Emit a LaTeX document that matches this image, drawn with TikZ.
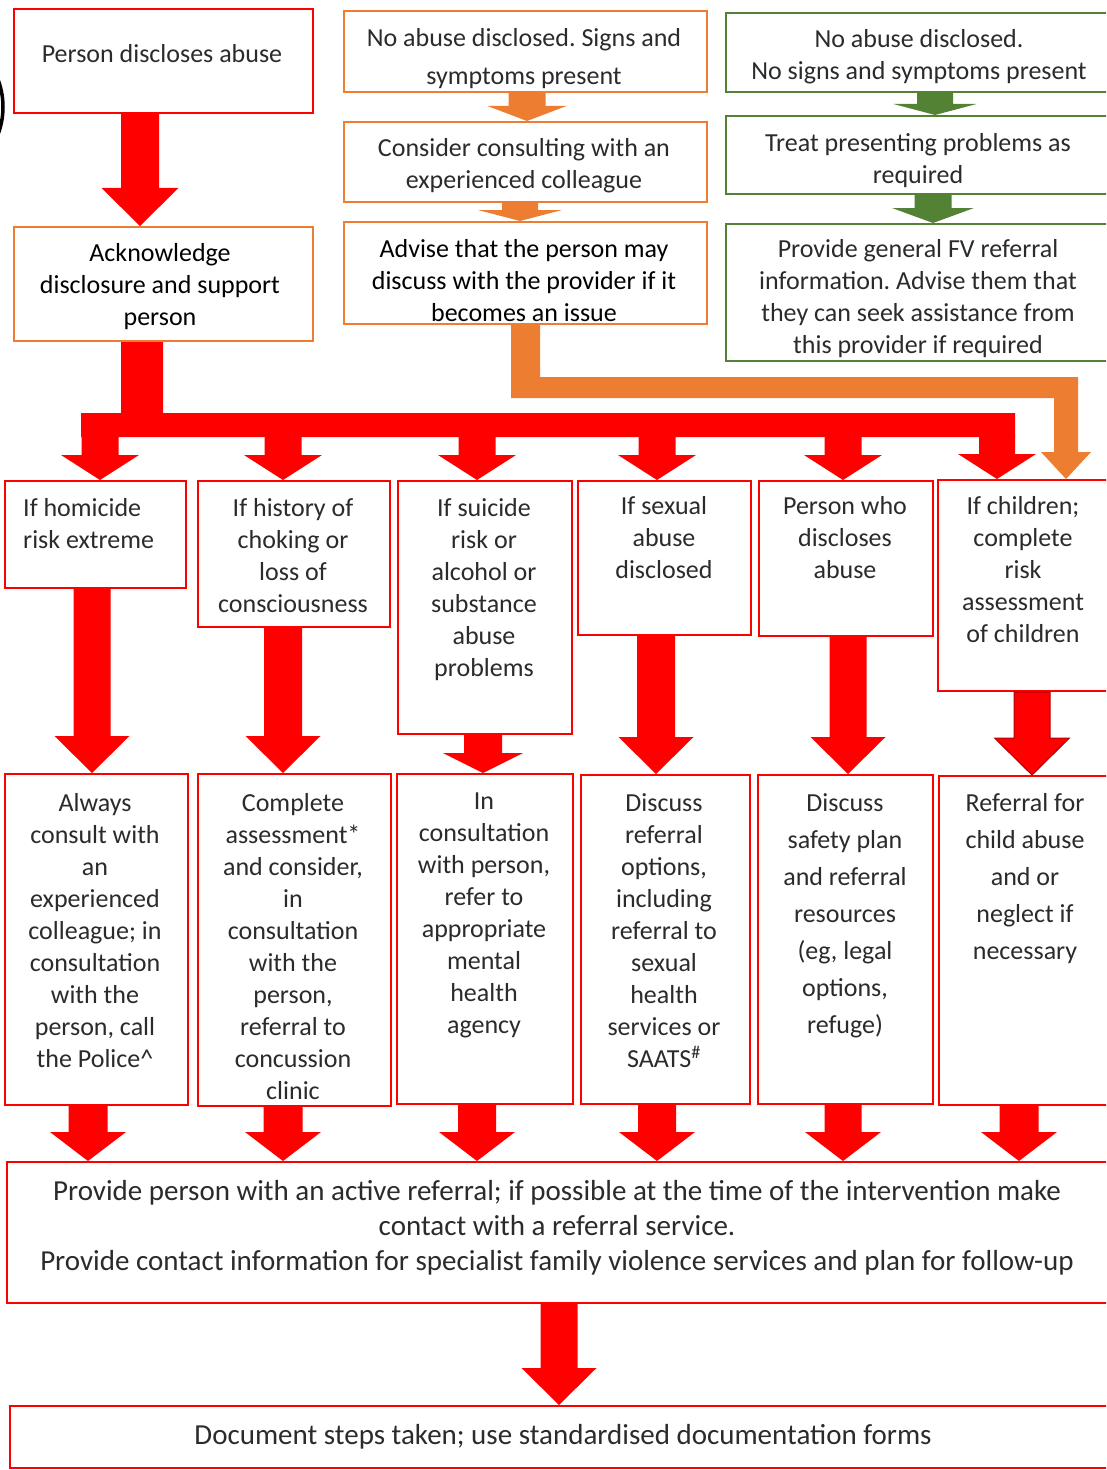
\documentclass[tikz,border=0pt]{standalone}
\usepackage{fontspec}
\setmainfont{Carlito}
\frenchspacing
\usetikzlibrary{calc}
\definecolor{cred}{HTML}{FF0000}
\definecolor{corange}{HTML}{ED7D31}
\definecolor{cgreen}{HTML}{548235}
\definecolor{ctext}{HTML}{2B2B2B}
\newcommand{\fsz}[2]{\fontsize{#1bp}{#2bp}\selectfont}
% box: name, x1, y1, x2, y2, style
\newcommand{\bx}[6]{\node[#6, anchor=north west, minimum width={(#4-#2)*1bp}, minimum height={(#5-#3)*1bp}] (#1) at (#2,#3) {};}
% text: [opts], name, x, top y, text
\newcommand{\tx}[5][]{\node[txt,anchor=north,#1] (#2) at (#3,#4) {#5};}
% block arrow: [opts]{colour}{start}{end}{xc}{shaft half}{head half}{head length}
\newcommand{\barr}[8][]{%
  \fill[#2,#1] let \p1=(#3), \p2=(#4) in
  ({(#5-#6)*1bp},\y1) -- ({(#5+#6)*1bp},\y1) -- ({(#5+#6)*1bp},{\y2+#8*1bp})
  -- ({(#5+#7)*1bp},{\y2+#8*1bp}) -- ({#5*1bp},\y2) -- ({(#5-#7)*1bp},{\y2+#8*1bp})
  -- ({(#5-#6)*1bp},{\y2+#8*1bp}) -- cycle;}
\tikzset{
  redbox/.style={draw=cred, line width=2.2bp, inner sep=0, fill=white},
  orbox/.style={draw=corange, line width=2.2bp, inner sep=0, fill=white},
  grbox/.style={draw=cgreen, line width=2.2bp, inner sep=0, fill=white},
  txt/.style={inner sep=0, align=center, text=ctext, font=\fsz{26}{32}, execute at begin node=\strut},
  txtb/.style={text=black},
  wide/.style={font=\fsz{26}{37}},
  big/.style={font=\fsz{29}{35}},
}
\begin{document}
\begin{tikzpicture}[x=1bp,y=-1bp]
\useasboundingbox (0,0) rectangle (1106,1470);
\clip (0,0) rectangle (1106,1470);
\fill[white] (0,0) rectangle (1106,1470);
% fragment at left edge
\draw[black, line width=3.5bp] (-74,107) circle (77);

% ---------- boxes ----------
\bx{A}{13}{8}{312}{112}{redbox}
\bx{B}{13}{226}{312}{340}{orbox}
\bx{O1}{343}{10}{706}{91}{orbox}
\bx{O2}{343}{121}{706}{201}{orbox}
\bx{O3}{343}{221}{706}{323}{orbox}
\bx{G1}{725}{12}{1120}{91}{grbox}
\bx{G2}{725}{115}{1120}{193}{grbox}
\bx{G3}{725}{223}{1120}{360}{grbox}
\bx{M1}{4}{480}{185}{587}{redbox}
\bx{M2}{197}{480}{389}{626}{redbox}
\bx{M3}{397}{480}{571}{733}{redbox}
\bx{M4}{577}{480}{750}{634}{redbox}
\bx{M5}{758}{480}{932}{635}{redbox}
\bx{M6}{937}{479}{1120}{690}{redbox}
\bx{L1}{4}{773}{187}{1104}{redbox}
\bx{L2}{197}{773}{390}{1105}{redbox}
\bx{L3}{396}{773}{572}{1103}{redbox}
\bx{L4}{580}{774}{749}{1103}{redbox}
\bx{L5}{757}{774}{932}{1103}{redbox}
\bx{L6}{938}{775}{1120}{1104}{redbox}
\bx{BIG}{6}{1161}{1120}{1302}{redbox}
\bx{LAST}{9}{1405}{1120}{1467}{redbox}

% ---------- arrows ----------
\barr{cred}{A.south}{B.north}{140}{19}{38.5}{38}
\barr{corange}{O1.south}{O2.north}{527}{18.5}{39.5}{15}
\barr{corange}{O2.south}{O3.north}{520}{18}{42}{11}
\barr{cgreen}{G1.south}{G2.north}{935}{18}{41.5}{11}
\barr{cgreen}{G2.south}{G3.north}{933}{18.5}{41}{15}

% distribution bar
\fill[cred] let \p1=(B.south) in (121bp,\y1) -- (163bp,\y1) -- (163,413) -- (1015,413)
  -- (1015,437) -- (81,437) -- (81,413) -- (121,413) -- cycle;
\coordinate (barb) at (0,436);
\barr{cred}{barb}{M1.north}{100}{18.5}{39}{25}
\barr{cred}{barb}{M2.north}{283}{18.5}{39}{25}
\barr{cred}{barb}{M3.north}{477}{18.5}{39}{25}
\barr{cred}{barb}{M4.north}{657}{18.5}{39}{25}
\barr{cred}{barb}{M5.north}{843}{18.5}{39}{25}
\barr{cred}{barb}{M6.north}{997}{18}{39}{25}

% orange elbow
\fill[corange] let \p1=(O3.south), \p2=(M6.north) in
  (511bp,\y1) -- (511,398) -- (1054,398) -- (1054,452) -- (1041,452) -- (1066bp,\y2)
  -- (1091,452) -- (1078,452) -- (1078,377) -- (540,377) -- (540bp,\y1) -- cycle;

% middle to lower
\barr{cred}{M1.south}{L1.north}{92}{18.5}{37.5}{37}
\barr{cred}{M2.south}{L2.north}{283}{19}{37.5}{37}
\barr{cred}{M3.south}{L3.north}{483}{19}{40}{20}
\barr{cred}{M4.south}{L4.north}{656}{19}{37.5}{37}
\barr{cred}{M5.south}{L5.north}{848}{18.5}{37.5}{37}
\barr[draw=red!70!black, line width=1bp]{cred}{M6.south}{L6.north}{1032}{18}{37.5}{37}

% lower to big box
\barr{cred}{L1.south}{BIG.north}{88}{19.5}{38}{29}
\barr{cred}{L2.south}{BIG.north}{283}{19.5}{38}{29}
\barr{cred}{L3.south}{BIG.north}{477}{19}{38}{29}
\barr{cred}{L4.south}{BIG.north}{657}{19}{38}{29}
\barr{cred}{L5.south}{BIG.north}{843}{18.5}{38}{29}
\barr{cred}{L6.south}{BIG.north}{1019}{19.5}{38}{29}
\barr{cred}{BIG.south}{LAST.north}{559}{18.5}{37.5}{37}

% ---------- texts ----------
\tx{tA}{162}{40}{Person discloses abuse}
\tx[txtb]{tB}{160}{243}{Acknowledge\\disclosure and support\\person}
\tx[font=\fsz{26}{38}]{tO1}{524}{28}{No abuse disclosed. Signs and\\symptoms present}
\tx{tO2}{524}{138}{Consider consulting with an\\experienced colleague}
\tx[txtb]{tO3}{524}{239}{Advise that the person may\\discuss with the provider if it\\becomes an issue}
\tx{tG1}{919}{29}{No abuse disclosed.\\No signs and symptoms present}
\tx{tG2}{918}{133}{Treat presenting problems as\\required}
\tx{tG3}{918}{239}{Provide general FV referral\\information. Advise them that\\they can seek assistance from\\this provider if required}
\node[txt, align=left, anchor=north west] (tM1) at (23,498) {If homicide\\risk extreme};
\tx{tM2}{293}{498}{If history of\\choking or\\loss of\\consciousness}
\tx{tM3}{484}{498}{If suicide\\risk or\\alcohol or\\substance\\abuse\\problems}
\tx{tM4}{664}{496}{If sexual\\abuse\\disclosed}
\tx{tM5}{845}{496}{Person who\\discloses\\abuse}
\tx{tM6}{1023}{496}{If children;\\complete\\risk\\assessment\\of children}
\tx{tL1}{95}{793}{Always\\consult with\\an\\experienced\\colleague; in\\consultation\\with the\\person, call\\the Police\textasciicircum}
\tx{tL2}{293}{793}{Complete\\assessment*\\and consider,\\in\\consultation\\with the\\person,\\referral to\\concussion\\clinic}
\tx{tL3}{484}{793}{In\\consultation\\with person,\\refer to\\appropriate\\mental\\health\\agency}
\tx{tL4}{664}{793}{Discuss\\referral\\options,\\including\\referral to\\sexual\\health\\services or\\SAATS\textsuperscript{\#}}
\tx[wide]{tL5}{845}{793}{Discuss\\safety plan\\and referral\\resources\\(eg, legal\\options,\\refuge)}
\tx[wide]{tL6}{1025}{793}{Referral for\\child abuse\\and or\\neglect if\\necessary}
\tx[big]{tBIG}{557}{1180}{Provide person with an active referral; if possible at the time of the intervention make\\contact with a referral service.\\Provide contact information for specialist family violence services and plan for follow-up}
\tx[big]{tLAST}{563}{1420}{Document steps taken; use standardised documentation forms}
\end{tikzpicture}
\end{document}
